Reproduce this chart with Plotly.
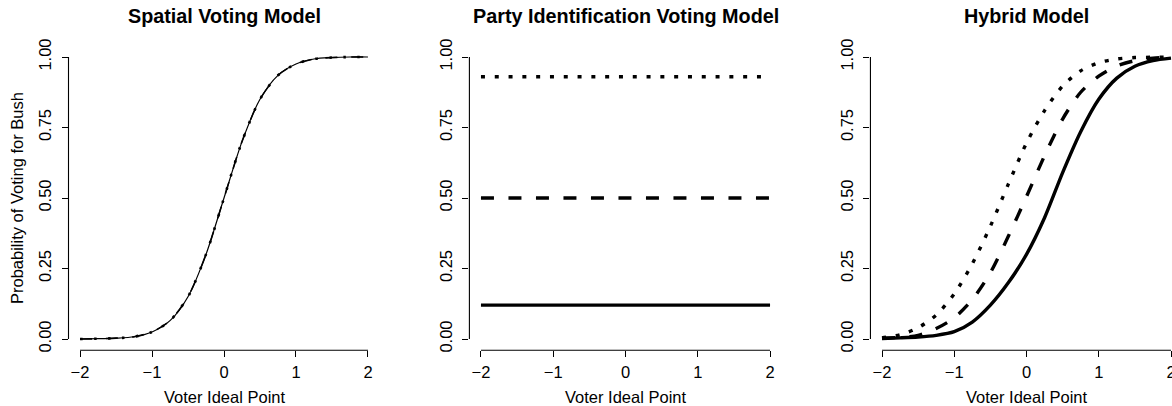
import plotly.graph_objects as go

# ---------------- data ----------------
x_grid = [-2.0, -1.75, -1.5, -1.25, -1.0, -0.75, -0.5, -0.25, 0.0,
          0.25, 0.5, 0.75, 1.0, 1.25, 1.5, 1.75, 2.0]

# Spatial voting model: all three groups share one curve
spatial_prob = [0.000, 0.001, 0.003, 0.008, 0.025, 0.065, 0.150, 0.300, 0.500,
                0.700, 0.850, 0.935, 0.975, 0.993, 0.998, 1.000, 1.000]

# Party identification model: flat lines
party_x = [-2.0, 2.0]
party_solid = [0.12, 0.12]
party_dashed = [0.50, 0.50]
party_dotted = [0.93, 0.93]

# Hybrid model
hybrid_solid = [0.002, 0.004, 0.007, 0.013, 0.026, 0.060, 0.120, 0.200, 0.300,
                0.430, 0.590, 0.735, 0.850, 0.925, 0.967, 0.987, 0.996]
hybrid_dashed = [0.003, 0.006, 0.013, 0.037, 0.075, 0.140, 0.235, 0.365, 0.505,
                 0.650, 0.780, 0.875, 0.932, 0.968, 0.987, 0.996, 0.999]
hybrid_dotted = [0.004, 0.015, 0.040, 0.085, 0.160, 0.267, 0.400, 0.550, 0.695,
                 0.810, 0.897, 0.951, 0.980, 0.993, 0.998, 0.999, 1.000]

titles = ["Spatial Voting Model", "Party Identification Voting Model", "Hybrid Model"]
x_label = "Voter Ideal Point"
y_label = "Probability of Voting for Bush"
x_tickvals = [-2, -1, 0, 1, 2]
x_ticktext = ["\u22122", "\u22121", "0", "1", "2"]
y_tickvals = [0, 0.25, 0.5, 0.75, 1.0]
y_ticktext = ["0.00", "0.25", "0.50", "0.75", "1.00"]

# ---------------- layout geometry ----------------
W, H = 1172, 406
FONT = "Liberation Sans, Arial, Helvetica, sans-serif"
BASE = 16.5

x_domains = [[68.5 / W, 379.5 / W], [469.4 / W, 781.6 / W], [870.44 / W, 1.0]]
x_ranges = [[-2.16, 2.16], [-2.16, 2.16], [-2.16, -2.16 + (W - 870.44) / 72.25]]
y_domain = [(H - 350.28) / H, (H - 45.72) / H]
y_range = [-0.04, 1.04]

fig = go.Figure()

thin = 1.2
thick = 3.4


def add(ax, xs, ys, width, dash):
    fig.add_trace(go.Scatter(
        x=xs, y=ys, mode="lines",
        line=dict(color="black", width=width, dash=dash, shape="spline", smoothing=0.8),
        xaxis="x" + ("" if ax == 1 else str(ax)),
        yaxis="y" + ("" if ax == 1 else str(ax)),
        showlegend=False, hoverinfo="skip"))


# Panel 1
add(1, x_grid, spatial_prob, thin, "solid")
add(1, x_grid, spatial_prob, 1.6, "12px,14px")
add(1, x_grid, spatial_prob, 2.6, "2.5px,11.5px")
# Panel 2
add(2, party_x, party_solid, thick, "solid")
add(2, party_x, party_dashed, thick, "13px,14.5px")
add(2, party_x, party_dotted, thick, "4px,9.8px")
# Panel 3
add(3, x_grid, hybrid_solid, thick, "solid")
add(3, x_grid, hybrid_dashed, thick, "13px,14.5px")
add(3, x_grid, hybrid_dotted, thick, "4px,9.8px")

layout = dict(
    width=W, height=H, autosize=False,
    margin=dict(l=0, r=0, t=0, b=0, pad=0, autoexpand=False),
    paper_bgcolor="white", plot_bgcolor="white",
    font=dict(family=FONT, size=BASE, color="black"),
    showlegend=False,
)

shapes = []
annotations = []
for i in range(3):
    sx = "" if i == 0 else str(i + 1)
    layout["xaxis" + sx] = dict(
        domain=x_domains[i], range=x_ranges[i], anchor="y" + sx,
        tickmode="array", tickvals=x_tickvals, ticktext=x_ticktext,
        ticks="outside", ticklen=6, tickwidth=1.1, tickcolor="black",
        showline=False, showgrid=False, zeroline=False, automargin=False,
        tickfont=dict(family=FONT, size=BASE, color="black"),
        ticklabelstandoff=1, ticklabeloverflow="allow",
    )
    layout["yaxis" + sx] = dict(
        domain=y_domain, range=y_range, anchor="x" + sx,
        tickmode="array", tickvals=y_tickvals, ticktext=y_ticktext,
        tickangle=-90,
        ticks="outside", ticklen=6, tickwidth=1.1, tickcolor="black",
        showline=False, showgrid=False, zeroline=False, automargin=False,
        tickfont=dict(family=FONT, size=BASE, color="black"),
        ticklabelstandoff=4, ticklabeloverflow="allow",
    )

    d0, d1 = x_domains[i]
    r0, r1 = x_ranges[i]

    def xp(v):
        return d0 + (v - r0) / (r1 - r0) * (d1 - d0)

    def yp(v):
        return y_domain[0] + (v - y_range[0]) / (y_range[1] - y_range[0]) * (y_domain[1] - y_domain[0])

    # R-style axis lines spanning first to last tick
    shapes.append(dict(type="line", xref="paper", yref="paper",
                       x0=xp(x_tickvals[0]), x1=xp(x_tickvals[-1]),
                       y0=y_domain[0], y1=y_domain[0],
                       line=dict(color="black", width=1.1)))
    shapes.append(dict(type="line", xref="paper", yref="paper",
                       x0=d0, x1=d0,
                       y0=yp(y_tickvals[0]), y1=yp(y_tickvals[-1]),
                       line=dict(color="black", width=1.1)))

    # titles and x labels centred on the R plot region (x = 0)
    annotations.append(dict(text="<b>" + titles[i] + "</b>", xref="x" + sx, yref="paper",
                            x=0, y=(H - 15.5) / H, xanchor="center", yanchor="middle",
                            showarrow=False, font=dict(family=FONT, size=19.8, color="black")))
    annotations.append(dict(text=x_label, xref="x" + sx, yref="paper",
                            x=0, y=(H - 397) / H, xanchor="center", yanchor="middle",
                            showarrow=False, font=dict(family=FONT, size=BASE, color="black")))

annotations.append(dict(text=y_label, xref="paper", yref="paper",
                        x=17 / W, y=(y_domain[0] + y_domain[1]) / 2,
                        xanchor="center", yanchor="middle", textangle=-90,
                        showarrow=False, font=dict(family=FONT, size=BASE, color="black")))

layout["shapes"] = shapes
layout["annotations"] = annotations
fig.update_layout(**layout)

fig.write_html(
    "out.html",
    config={"displayModeBar": False},
    post_script=(
        "var gd=document.getElementById('{plot_id}');"
        "gd.style.position='absolute';gd.style.top='0px';gd.style.left='0px';"
        "var de=document.documentElement, b=document.body;"
        "de.style.margin='0';de.style.padding='0';de.style.overflow='hidden';"
        "b.style.margin='0';b.style.padding='0';b.style.overflow='hidden';"
    ),
)
